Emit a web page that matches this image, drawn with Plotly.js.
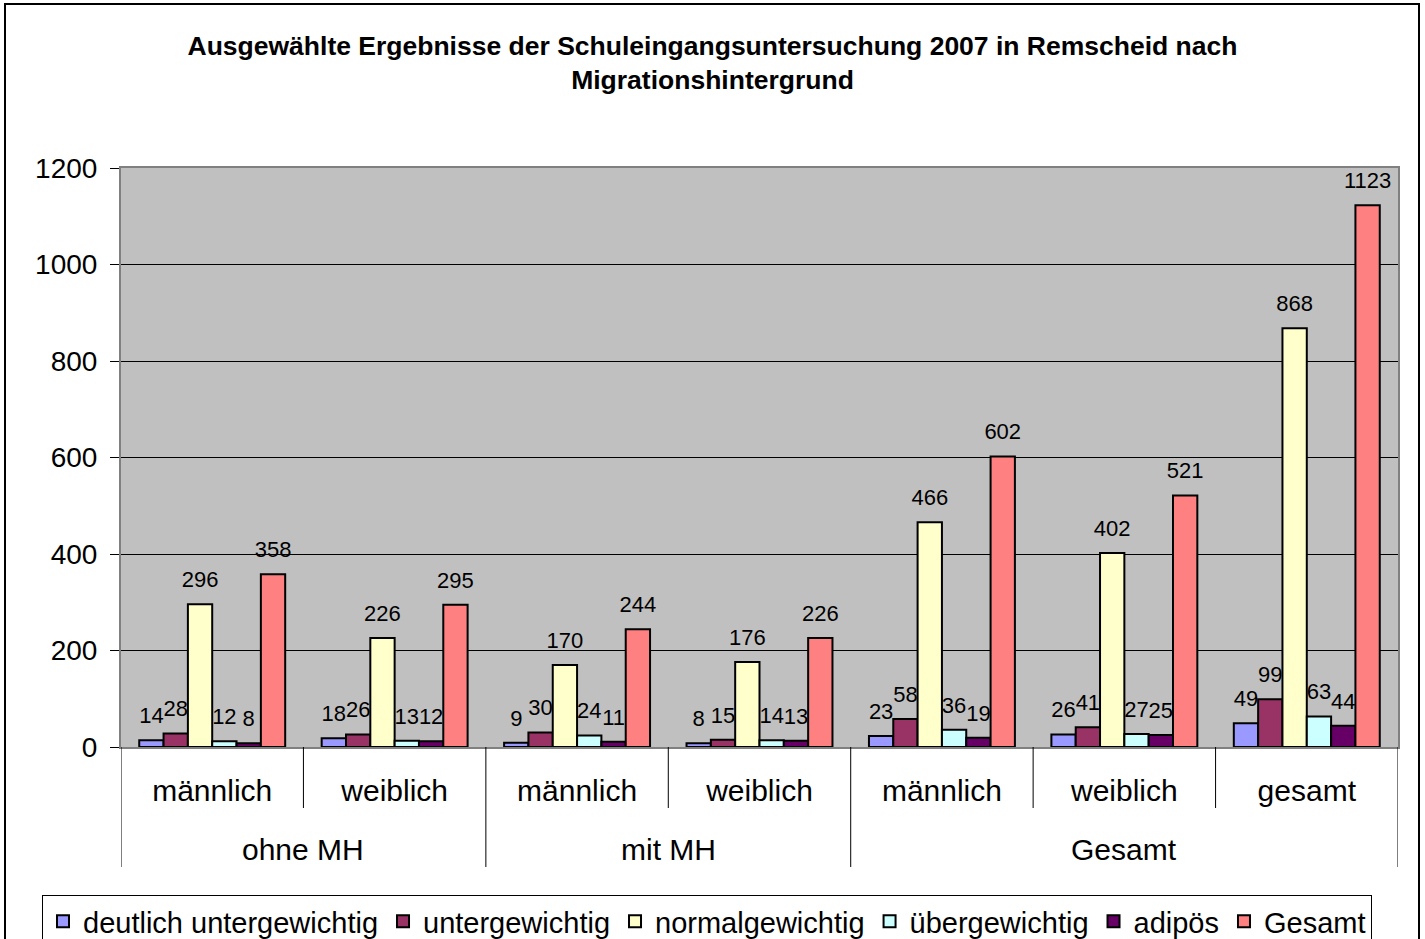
<!DOCTYPE html>
<html>
<head>
<meta charset="utf-8">
<script src="https://cdn.plot.ly/plotly-3.0.1.min.js"></script>
<style>
html,body{margin:0;padding:0;background:#fff;}
#chart{width:1425px;height:939px;}
</style>
</head>
<body>
<div id="chart"></div>
<script>
// ---- data ----
const subLabels = ["männlich","weiblich","männlich","weiblich","männlich","weiblich","gesamt"];
const groupLabels = ["ohne MH","mit MH","Gesamt"];
const groupSpans = [[0,1],[2,3],[4,6]];
const seriesNames = ["deutlich untergewichtig","untergewichtig","normalgewichtig","übergewichtig","adipös","Gesamt"];
const deutlichUnter = [14, 18, 9, 8, 23, 26, 49];
const unter = [28, 26, 30, 15, 58, 41, 99];
const normal = [296, 226, 170, 176, 466, 402, 868];
const ueber = [12, 13, 24, 14, 36, 27, 63];
const adipoes = [8, 12, 11, 13, 19, 25, 44];
const gesamt = [358, 295, 244, 226, 602, 521, 1123];
const colors = ["#9999FF","#993366","#FFFFCC","#CCFFFF","#660066","#FF8080"];
const yTicks = [0,200,400,600,800,1000,1200];

const FONT = "Liberation Sans, Arial, Helvetica, sans-serif";
const xIdx = subLabels.map((_, i) => i);
const allSeries = [deutlichUnter, unter, normal, ueber, adipoes, gesamt];

const barTraces = allSeries.map((vals, k) => ({
  type: "bar",
  name: seriesNames[k],
  x: xIdx,
  y: vals,
  marker: {color: colors[k], line: {color: "#000", width: 2}},
  hoverinfo: "name+y"
}));

// value labels: grouped scatter traces aligned with the bars
const labelTraces = allSeries.map((vals, k) => ({
  type: "scatter",
  mode: "markers+text",
  orientation: "v",
  showlegend: false,
  x: xIdx,
  y: vals,
  text: vals.map(String),
  textposition: "top center",
  textfont: {family: FONT, size: 22, color: "#000"},
  marker: {size: 17, color: "rgba(0,0,0,0)", line: {width: 0}},
  cliponaxis: false,
  hoverinfo: "skip"
}));

// geometry (paper units)
const plotL = 121, plotR = 1398, plotT = 168, plotB = 747;
const pw = plotR - plotL, ph = plotB - plotT;
const py = (pix) => (plotB - pix) / ph;
const px = (pix) => (pix - plotL) / pw;

const shapes = [];
const boundaries = [];
for (let i = 0; i <= subLabels.length; i++) boundaries.push(i - 0.5);
const groupEdges = new Set();
groupSpans.forEach(s => { groupEdges.add(s[0] - 0.5); groupEdges.add(s[1] + 0.5); });
boundaries.forEach(b => {
  const long = groupEdges.has(b);
  shapes.push({type: "line", xref: "x", yref: "paper", x0: b, x1: b,
    y0: 0, y1: long ? py(867) : py(808), line: {color: "#000", width: 1}});
});
// outer border
shapes.push({type: "rect", xref: "paper", yref: "paper",
  x0: px(5), x1: px(1419), y0: py(4), y1: py(980),
  line: {color: "#000", width: 2}, fillcolor: "rgba(0,0,0,0)", layer: "below"});

const annotations = groupLabels.map((g, i) => ({
  text: g, xref: "x", yref: "paper",
  x: (groupSpans[i][0] + groupSpans[i][1]) / 2, y: py(849),
  xanchor: "center", yanchor: "middle", showarrow: false,
  font: {family: FONT, size: 30, color: "#000"}
}));

const layout = {
  width: 1425, height: 939,
  margin: {l: plotL, r: 1425 - plotR, t: plotT, b: 939 - plotB, pad: 0, autoexpand: false},
  paper_bgcolor: "#fff",
  plot_bgcolor: "#C0C0C0",
  font: {family: FONT, color: "#000"},
  title: {
    text: "<b>Ausgewählte Ergebnisse der Schuleingangsuntersuchung 2007 in Remscheid nach<br>Migrationshintergrund</b>",
    font: {family: FONT, size: 26.5, color: "#000"},
    x: 0.5, xref: "container", xanchor: "center",
    y: 1 - 55 / 939, yref: "container", yanchor: "top"
  },
  barmode: "group",
  bargap: 0.2,
  bargroupgap: 0,
  scattermode: "group",
  scattergap: 0.2,
  showlegend: true,
  legend: {
    orientation: "h", xref: "paper", yref: "paper",
    x: px(42), xanchor: "left", y: py(895), yanchor: "top",
    bordercolor: "#000", borderwidth: 1, bgcolor: "#fff",
    font: {family: FONT, size: 29, color: "#000"},
    traceorder: "normal", itemclick: false
  },
  xaxis: {
    range: [-0.5, subLabels.length - 0.5],
    tickmode: "array", tickvals: xIdx, ticktext: subLabels,
    ticks: "", showgrid: false, zeroline: false,
    showline: true, linecolor: "#808080", linewidth: 2, mirror: true,
    tickfont: {family: FONT, size: 30, color: "#000"},
    ticklabelstandoff: 16
  },
  yaxis: {
    range: [0, 1200], tickmode: "array", tickvals: yTicks,
    ticks: "outside", ticklen: 9, tickcolor: "#000", tickwidth: 1,
    showgrid: true, gridcolor: "#000", gridwidth: 1, zeroline: false,
    showline: true, linecolor: "#808080", linewidth: 2, mirror: true,
    tickfont: {family: FONT, size: 28, color: "#000"},
    ticklabelstandoff: 7
  },
  shapes: shapes,
  annotations: annotations
};

Plotly.newPlot("chart", barTraces.concat(labelTraces), layout, {displayModeBar: false, staticPlot: true});
</script>
</body>
</html>
